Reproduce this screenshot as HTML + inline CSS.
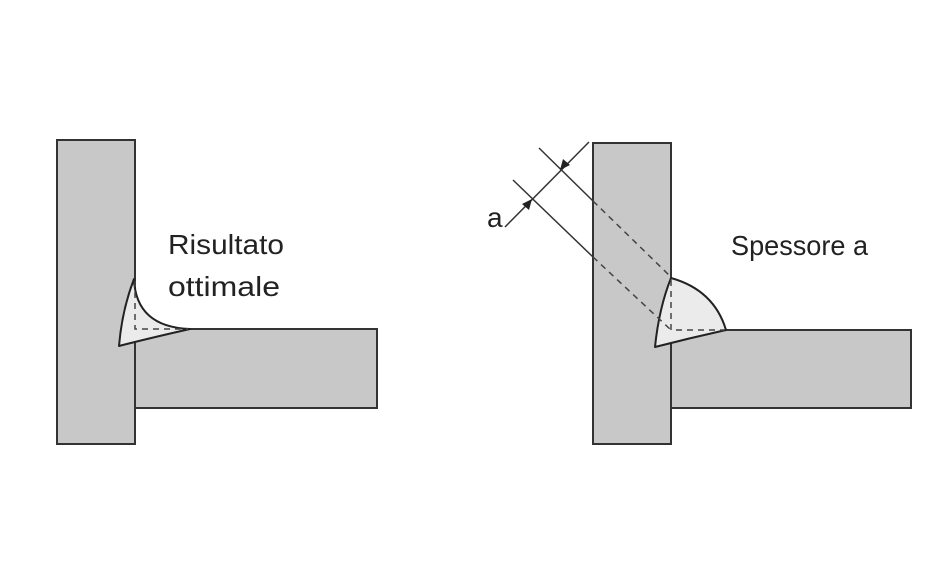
<!DOCTYPE html>
<html><head><style>body{margin:0;background:#fff}svg{display:block}</style></head><body>
<svg width="951" height="576" viewBox="0 0 951 576" xmlns="http://www.w3.org/2000/svg">
<g fill="#c8c8c8" stroke="#333" stroke-width="2">
<rect x="57" y="140" width="78" height="304"/>
<rect x="135" y="329" width="242" height="79"/>
<rect x="593" y="143" width="78" height="301"/>
<rect x="671" y="330" width="240" height="78"/>
</g>
<g fill="#ebebeb" stroke="#222" stroke-width="2" stroke-linejoin="round">
<path d="M134,279 Q136,327 190,329 Q150,338 119,346 Q122,310 134,279 Z"/>
<path d="M671,278 Q714,290 726,330 Q690,338 655,347 Q659,308 671,278 Z"/>
</g>
<g stroke="#444" stroke-width="1.5" stroke-dasharray="6,5" fill="none">
<path d="M135,281 V329 H188"/>
<path d="M671,280 V330 H724"/>
<path d="M593,201 L671,277"/>
<path d="M593,257 L671,330"/>
</g>
<g stroke="#333" stroke-width="1.5" fill="none">
<line x1="539" y1="148" x2="593" y2="201"/>
<line x1="513" y1="180" x2="593" y2="257"/>
<line x1="505" y1="227" x2="589" y2="142"/>
</g>
<g fill="#222">
<polygon points="560,170 563,159 570,165"/>
<polygon points="532,199 529,210 522,204"/>
</g>
<g font-family="Liberation Sans, sans-serif" font-size="28" fill="#222">
<text x="168" y="254" textLength="116" lengthAdjust="spacingAndGlyphs">Risultato</text>
<text x="168" y="296" textLength="112" lengthAdjust="spacingAndGlyphs">ottimale</text>
<text x="731" y="255" textLength="137" lengthAdjust="spacingAndGlyphs">Spessore a</text>
<text x="487" y="227">a</text>
</g>
</svg>
</body></html>
